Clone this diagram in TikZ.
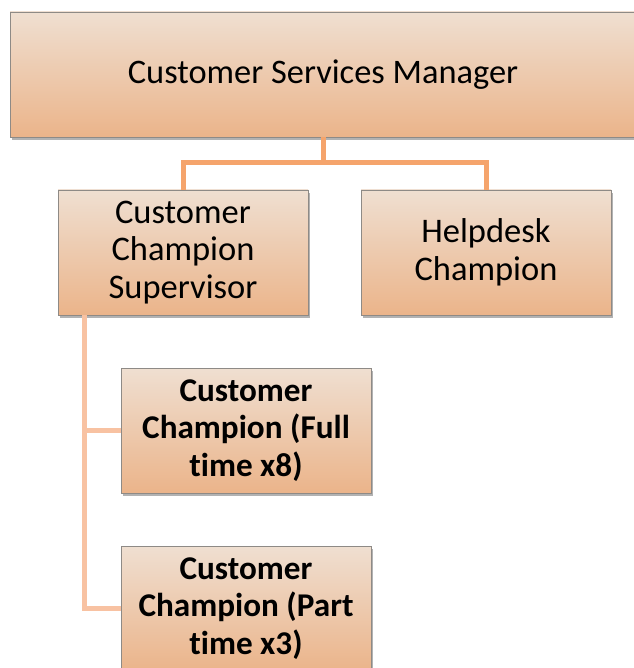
\documentclass[tikz,border=0pt]{standalone}
\usepackage{fontspec}
\setmainfont[Ligatures=NoCommon]{Carlito}
\usetikzlibrary{shadows}
\definecolor{boxtop}{HTML}{EFDFD1}
\definecolor{boxbot}{HTML}{EBB48A}
\definecolor{boxline}{HTML}{8E8A86}
\definecolor{linkdark}{HTML}{F5A46C}
\definecolor{linklight}{HTML}{F8C2A2}
\tikzset{
  box/.style={draw=boxline, line width=0.8pt, top color=boxtop, bottom color=boxbot,
    align=center, inner sep=0pt, minimum width=250pt, minimum height=125pt,
    font=\fontsize{34.5}{37.5}\selectfont,
    drop shadow={shadow xshift=2pt, shadow yshift=-3pt, opacity=0.3, fill=black}},
  boldbox/.style={box, font=\fontsize{33.2}{37.5}\selectfont\bfseries},
  link/.style={line width=5pt, draw=linkdark},
  sublink/.style={line width=5pt, draw=linklight},
}
\begin{document}
\begin{tikzpicture}[x=1pt,y=-1pt]
\useasboundingbox (0,0) rectangle (633,668);
\node[box, minimum width=626pt, font=\fontsize{34.4}{40}\selectfont] (mgr) at (323,74.5) {Customer Services Manager};
\node[box] (sup) at (183,252.5) {Customer\\Champion\\Supervisor};
\node[box] (help) at (486,252.5) {Helpdesk\\Champion};
\node[boldbox] (full) at (246,430.5) {Customer\\Champion (Full\\time x8)};
\node[boldbox] (part) at (246,608.5) {Customer\\Champion (Part\\time x3)};
\coordinate (hub) at (323,163);
\coordinate (trunk) at (84,315);
\draw[link] (mgr.south) -- (hub);
\draw[link] (sup.north) |- (hub) -| (help.north);
\draw[sublink] (trunk) |- (full.west);
\draw[sublink] (trunk) |- (part.west);
\end{tikzpicture}
\end{document}
